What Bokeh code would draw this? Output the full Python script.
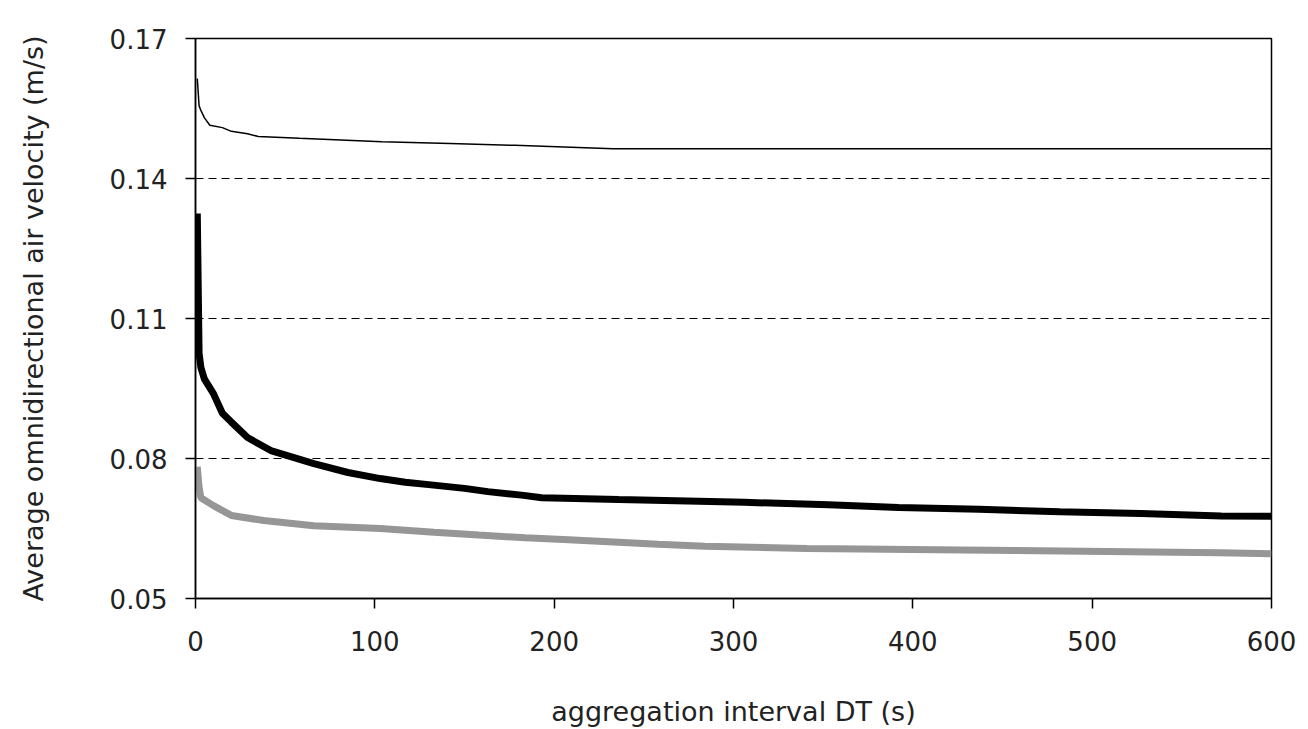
from bokeh.plotting import figure
from bokeh.models import FixedTicker, PrintfTickFormatter, Range1d
from bokeh.embed import file_html
from bokeh.resources import INLINE

# ---- data ----
x_ticks = [0, 100, 200, 300, 400, 500, 600]
y_ticks = [0.05, 0.08, 0.11, 0.14, 0.17]

dt_top = [1, 2, 3, 5, 8, 15, 20, 29, 35, 58, 104, 142, 178, 233, 600]
v_top = [0.1614, 0.1556, 0.1546, 0.1530, 0.1514, 0.1509, 0.1501, 0.1496, 0.1490,
         0.1486, 0.1479, 0.1475, 0.1471, 0.1464, 0.1464]

dt_mid = [1, 2, 3, 5, 10, 15, 20, 29, 42, 66, 85, 103, 117, 130, 150, 163, 183, 193,
          236, 306, 353, 392, 437, 482, 527, 572, 600]
v_mid = [0.1325, 0.1025, 0.0995, 0.0970, 0.0939, 0.0897, 0.0878, 0.0845, 0.0817,
         0.0789, 0.0770, 0.0757, 0.0749, 0.0744, 0.0736, 0.0729, 0.0721, 0.0716,
         0.0712, 0.0706, 0.0701, 0.0695, 0.0691, 0.0686, 0.0682, 0.0677, 0.0676]

dt_low = [1, 2, 3, 10, 20, 38, 66, 103, 133, 158, 184, 208, 233, 258, 284, 341, 457, 571, 600]
v_low = [0.0782, 0.0738, 0.0716, 0.0699, 0.0678, 0.0667, 0.0656, 0.0650, 0.0642, 0.0636,
         0.0630, 0.0626, 0.0621, 0.0616, 0.0612, 0.0607, 0.0603, 0.0598, 0.0596]

FONT = "DejaVu Sans"

p = figure(width=1308, height=729, output_backend="svg", toolbar_location=None,
           x_range=Range1d(0, 600), y_range=Range1d(0.05, 0.17),
           min_border_left=195, min_border_right=37, min_border_top=38, min_border_bottom=131)

p.background_fill_color = "white"
p.border_fill_color = "white"
p.outline_line_color = "black"
p.outline_line_width = 1.5

# grid
p.xgrid.visible = False
p.ygrid.ticker = FixedTicker(ticks=[0.08, 0.11, 0.14])
p.ygrid.grid_line_color = "black"
p.ygrid.grid_line_width = 1
p.ygrid.grid_line_dash = "8 5"

# axes
for ax in (p.xaxis[0], p.yaxis[0]):
    ax.axis_line_color = "black"
    ax.axis_line_width = 1.5
    ax.major_tick_line_color = "black"
    ax.major_tick_line_width = 1.5
    ax.major_tick_out = 10
    ax.major_tick_in = 0
    ax.minor_tick_line_color = None
    ax.major_label_text_font = FONT
    ax.major_label_text_font_size = "26px"
    ax.major_label_text_color = "#222222"
    ax.axis_label_text_font = FONT
    ax.axis_label_text_font_size = "27px"
    ax.axis_label_text_font_style = "normal"
    ax.axis_label_text_color = "#222222"

p.xaxis.ticker = FixedTicker(ticks=x_ticks)
p.yaxis.ticker = FixedTicker(ticks=y_ticks)
p.xaxis.formatter = PrintfTickFormatter(format="%d")
p.yaxis.formatter = PrintfTickFormatter(format="%.2f")
p.xaxis.major_label_standoff = 22
p.yaxis.major_label_standoff = 18
p.xaxis.axis_label = "aggregation interval DT (s)"
p.yaxis.axis_label = "Average omnidirectional air velocity (m/s)"
p.xaxis.axis_label_standoff = 42
p.yaxis.axis_label_standoff = 58

# series
p.line(dt_top, v_top, line_color="black", line_width=1.5)
p.line(dt_mid, v_mid, line_color="black", line_width=7)
p.line(dt_low, v_low, line_color="#969696", line_width=7)

open("out.html", "w").write(file_html(p, INLINE))
